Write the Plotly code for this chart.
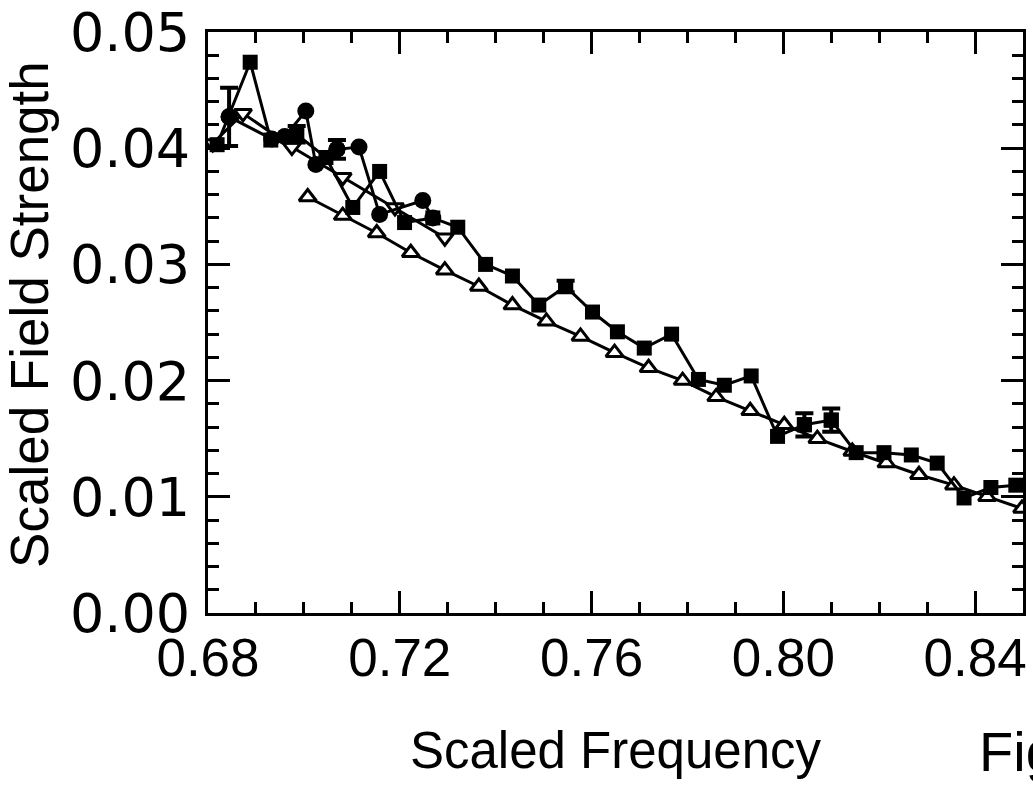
import plotly.graph_objects as go

# ---------------- data ----------------
# filled squares (long measured series)
sq_x = [0.6819, 0.6888, 0.6931, 0.6985, 0.7046, 0.7102, 0.7158, 0.7210, 0.7269,
        0.7321, 0.7379, 0.7435, 0.7490, 0.7546, 0.7602, 0.7654, 0.7710, 0.7767,
        0.7823, 0.7877, 0.7933, 0.7988, 0.8044, 0.8100, 0.8152, 0.8210, 0.8267,
        0.8321, 0.8377, 0.8433, 0.8485]
sq_y = [0.0403, 0.0474, 0.0407, 0.0412, 0.0392, 0.0349, 0.0380, 0.0336, 0.0340,
        0.0332, 0.0300, 0.0290, 0.0265, 0.0281, 0.0259, 0.0242, 0.0228, 0.0240,
        0.0201, 0.0196, 0.0204, 0.0152, 0.0162, 0.0166, 0.0138, 0.0138, 0.0136,
        0.0129, 0.0099, 0.0108, 0.0110]
sq_err = [None, None, None, 0.0007, None, None, None, None, None,
          None, None, None, None, 0.0005, None, None, None, None,
          None, None, None, None, 0.0010, 0.0010, None, None, None,
          None, None, None, None]

# filled circles
ci_x = [0.6844, 0.6933, 0.6960, 0.7004, 0.7025, 0.7069, 0.7115, 0.7158, 0.7248, 0.7269]
ci_y = [0.0427, 0.0408, 0.0410, 0.0432, 0.0386, 0.0399, 0.0401, 0.0343, 0.0355, 0.0340]
ci_err = [0.0025, None, None, None, None, 0.0008, None, None, None, None]

# open down-triangles
dt_x = [0.6810, 0.6873, 0.6975, 0.7081, 0.7190, 0.7294]
dt_y = [0.0404, 0.0430, 0.0401, 0.0375, 0.0349, 0.0323]

# open up-triangles
ut_x = [0.7008, 0.7081, 0.7152, 0.7223, 0.7294, 0.7365, 0.7435, 0.7506, 0.7577,
        0.7648, 0.7719, 0.7790, 0.7860, 0.7931, 0.8002, 0.8071, 0.8144, 0.8215,
        0.8283, 0.8356, 0.8425, 0.8498]
ut_y = [0.0358, 0.0342, 0.0327, 0.0310, 0.0295, 0.0281, 0.0265, 0.0251, 0.0238,
        0.0224, 0.0211, 0.0200, 0.0186, 0.0174, 0.0162, 0.0150, 0.0139, 0.0129,
        0.0119, 0.0110, 0.0100, 0.0090]

x_title = "Scaled Frequency"
y_title = "Scaled Field Strength"
x_ticks = [0.68, 0.72, 0.76, 0.80, 0.84]
x_tick_text = ["0.68", "0.72", "0.76", "0.80", "0.84"]
y_ticks = [0.00, 0.01, 0.02, 0.03, 0.04, 0.05]
y_tick_text = ["0.00", "0.01", "0.02", "0.03", "0.04", "0.05"]
fig_label = "Fig"

# ---------------- figure ----------------
BLACK = "black"
LW = 3

fig = go.Figure()


def err_trace(xs, ys, errs, symbol, size):
    ex = [x for x, e in zip(xs, errs) if e is not None]
    ey = [y for y, e in zip(ys, errs) if e is not None]
    ee = [e for e in errs if e is not None]
    return go.Scatter(x=ex, y=ey, mode="markers",
                      marker=dict(symbol=symbol, size=size, color=BLACK),
                      error_y=dict(type="data", array=ee, visible=True,
                                   thickness=4, width=9, color=BLACK),
                      showlegend=False, hoverinfo="skip")


fig.add_trace(go.Scatter(x=ut_x, y=ut_y, mode="lines+markers",
                         line=dict(color=BLACK, width=LW),
                         marker=dict(symbol="triangle-up", size=15, color="white",
                                     line=dict(color=BLACK, width=3)),
                         showlegend=False))
fig.add_trace(go.Scatter(x=dt_x, y=dt_y, mode="lines+markers",
                         line=dict(color=BLACK, width=LW),
                         marker=dict(symbol="triangle-down", size=15, color="white",
                                     line=dict(color=BLACK, width=3)),
                         showlegend=False))
fig.add_trace(go.Scatter(x=ci_x, y=ci_y, mode="lines+markers",
                         line=dict(color=BLACK, width=LW),
                         marker=dict(symbol="circle", size=17, color=BLACK),
                         showlegend=False))
fig.add_trace(err_trace(ci_x, ci_y, ci_err, "circle", 17))
fig.add_trace(go.Scatter(x=sq_x, y=sq_y, mode="lines+markers",
                         line=dict(color=BLACK, width=LW),
                         marker=dict(symbol="square", size=15, color=BLACK),
                         showlegend=False))
fig.add_trace(err_trace(sq_x, sq_y, sq_err, "square", 15))

axis_common = dict(showline=True, linecolor=BLACK, linewidth=3, mirror="allticks",
                   ticks="inside", tickcolor=BLACK, tickwidth=3, ticklen=22,
                   showgrid=False, zeroline=False, automargin=False)

fig.update_xaxes(range=[0.68, 0.85], tickvals=x_ticks, ticktext=x_tick_text,
                 tickfont=dict(family="Liberation Sans, Arial, sans-serif", size=53, color=BLACK),
                 ticklabelstandoff=-4,
                 title=dict(text=x_title, standoff=47,
                            font=dict(family="Liberation Sans, Arial, sans-serif", size=51, color=BLACK)),
                 minor=dict(dtick=0.01, tick0=0.68, ticks="inside", ticklen=11,
                            tickwidth=3, tickcolor=BLACK, showgrid=False),
                 **axis_common)
fig.update_yaxes(range=[0.0, 0.05], tickvals=y_ticks, ticktext=y_tick_text,
                 tickfont=dict(family="DejaVu Sans, Liberation Sans, sans-serif", size=54, color=BLACK),
                 ticklabelstandoff=4,
                 minor=dict(dtick=0.002, tick0=0.0, ticks="inside", ticklen=11,
                            tickwidth=3, tickcolor=BLACK, showgrid=False),
                 **axis_common)

fig.add_annotation(text=y_title, xref="paper", yref="paper", x=-0.2184, y=0.513,
                   xanchor="center", yanchor="middle", showarrow=False, textangle=-90,
                   font=dict(family="Liberation Sans, Arial, sans-serif", size=53, color=BLACK))
fig.add_annotation(text=fig_label, xref="paper", yref="paper", x=0.9436, y=-0.296,
                   xanchor="left", yanchor="bottom", showarrow=False,
                   font=dict(family="Liberation Sans, Arial, sans-serif", size=56, color=BLACK))

fig.update_layout(width=1033, height=785,
                  margin=dict(l=208, r=10, t=32, b=172, pad=0),
                  paper_bgcolor="white", plot_bgcolor="white",
                  showlegend=False)

fig.write_html("out.html")
